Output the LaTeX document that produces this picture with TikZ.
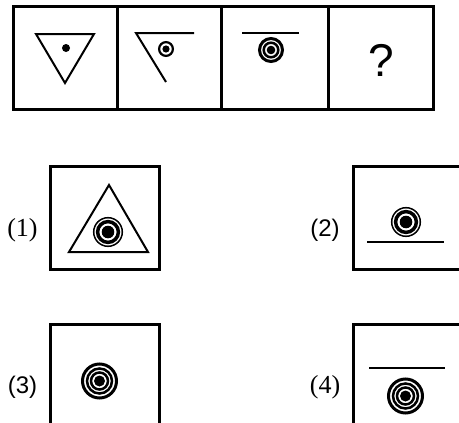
\documentclass[tikz,border=0pt]{standalone}
\usepackage{fontspec}
\setmainfont{Liberation Serif}
\newfontfamily\helv{Liberation Sans}
\begin{document}
\begin{tikzpicture}[x=1pt,y=-1pt,
  frame/.style={line width=3pt},
  figline/.style={line width=2pt},
  serlabel/.style={font=\fontsize{26}{26}\selectfont, inner sep=0pt},
  sanslabel/.style={font=\helv\fontsize{24}{24}\selectfont, inner sep=0pt}]
\useasboundingbox (0,0) rectangle (459,423);
\clip (0,0) rectangle (459,423);
% top row
\draw[frame] (13,6) rectangle (433,109);
\draw[frame] (117,6) -- (117,109);
\draw[frame] (221,6) -- (221,109);
\draw[frame] (328,6) -- (328,109);
% cell 1
\draw[figline, line join=miter] (36,34) -- (94,34) -- (65,83) -- cycle;
\fill (66,48) circle[radius=4];
% cell 2
\draw[figline] (194,33) -- (136,33) -- (166,82);
\draw[line width=2.2pt] (166,49) circle[radius=6.9];
\fill (166,49) circle[radius=3.6];
% cell 3
\draw[figline] (242,33) -- (299,33);
\draw[line width=3pt] (271,50) circle[radius=11.5];
\draw[line width=2.5pt] (271,50) circle[radius=7.3];
\fill (271,50) circle[radius=4.3];
% cell 4
\node[font=\helv\fontsize{46}{46}\selectfont, inner sep=0pt] (q) at (381,60) {?};
% option 1
\node[serlabel] (l1) at (22.5,230) {(1)};
\draw[frame] (50,166) rectangle (159,269);
\draw[figline, line join=miter] (109,185) -- (148,252) -- (69,252) -- cycle;
\draw[line width=1.5pt] (108,232) circle[radius=14.3];
\draw[line width=3.5pt] (108,232) circle[radius=10.4];
\fill (108,232) circle[radius=6.3];
% option 2
\node[sanslabel] (l2) at (325,230) {(2)};
\draw[frame] (353,166) rectangle (463,269);
\draw[figline] (367,242) -- (444,242);
\draw[line width=1.5pt] (406,222) circle[radius=14.3];
\draw[line width=3.5pt] (406,222) circle[radius=10.4];
\fill (406,222) circle[radius=6.3];
% option 3
\node[sanslabel] (l3) at (22.5,387) {(3)};
\draw[frame] (50,324) rectangle (159,428);
\draw[line width=3pt] (99.5,381) circle[radius=17];
\draw[line width=2.5pt] (99.5,381) circle[radius=12.5];
\draw[line width=2.5pt] (99.5,381) circle[radius=8.5];
\fill (99.5,381) circle[radius=5.5];
% option 4
\node[serlabel] (l4) at (325,387) {(4)};
\draw[frame] (353,324) rectangle (463,428);
\draw[figline] (369,368) -- (445,368);
\draw[line width=3pt] (405.5,396) circle[radius=17];
\draw[line width=2.5pt] (405.5,396) circle[radius=12.5];
\draw[line width=2.5pt] (405.5,396) circle[radius=8.5];
\fill (405.5,396) circle[radius=5.5];
\end{tikzpicture}
\end{document}
